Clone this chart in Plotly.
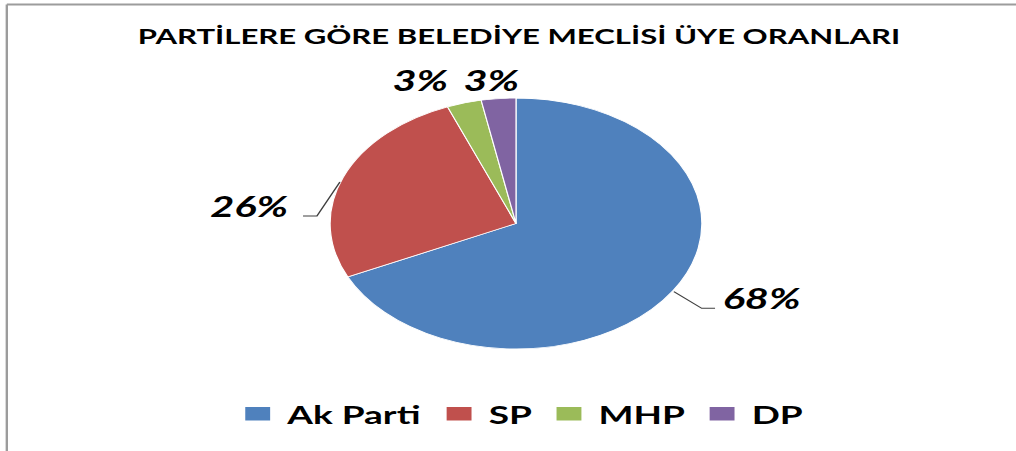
import plotly.graph_objects as go

# ---- data ----
parties = ["Ak Parti", "SP", "MHP", "DP"]
shares = [68, 26, 3, 3]
colors = ["#4F81BD", "#C0504D", "#9BBB59", "#8064A2"]
title_text = "PARTİLERE GÖRE BELEDİYE MECLİSİ ÜYE ORANLARI"

# ---- layout geometry (unstretched pixel space; the page stretches it horizontally) ----
W, H = 686, 451
STRETCH = 1016 / W
FONT = "Lato"


def px(x):
    return x / W


def py(y):
    return 1 - y / H


pie_cx = 348.4
pie_top, pie_bottom = 98, 349

label_pos = [(514.2, 297.5), (168.8, 206.3), (283.6, 79.7), (331.5, 79.7)]
leader_paths = [
    [(455.0, 291.7), (473.8, 308.3), (482.8, 308.3)],
    [(229.5, 182.0), (214.0, 216.0), (204.6, 216.0)],
]

fig = go.Figure(
    go.Pie(
        labels=parties,
        values=shares,
        sort=False,
        direction="clockwise",
        rotation=0,
        marker=dict(colors=colors, line=dict(color="white", width=0.8)),
        textinfo="none",
        hoverinfo="skip",
        domain=dict(x=[px(pie_cx - 150), px(pie_cx + 150)], y=[py(pie_bottom), py(pie_top)]),
    )
)

total = sum(shares)
annotations = []
for v, (lx, ly) in zip(shares, label_pos):
    annotations.append(
        dict(
            text=f"{round(v * 100 / total)}%",
            x=px(lx),
            y=py(ly),
            xref="paper",
            yref="paper",
            xanchor="center",
            yanchor="middle",
            showarrow=False,
            font=dict(family=FONT, size=28, weight="bold", style="italic", color="#000000"),
        )
    )

shapes = []
for pts in leader_paths:
    d = "M " + " L ".join(f"{px(x)},{py(y)}" for x, y in pts)
    shapes.append(dict(type="path", path=d, xref="paper", yref="paper",
                       line=dict(color="#404040", width=1)))

# chart border (top and left edges visible)
shapes.append(dict(type="line", xref="paper", yref="paper", x0=px(4.6), x1=1, y0=py(4.5), y1=py(4.5),
                   line=dict(color="#9C9C9C", width=2)))
shapes.append(dict(type="line", xref="paper", yref="paper", x0=px(4.6), x1=px(4.6), y0=py(4.5), y1=0,
                   line=dict(color="#9C9C9C", width=1.6)))

fig.update_layout(
    width=W,
    height=H,
    margin=dict(l=0, r=0, t=0, b=0),
    paper_bgcolor="white",
    plot_bgcolor="white",
    title=dict(
        text=title_text,
        x=px(350.4),
        xanchor="center",
        xref="paper",
        y=py(37),
        yref="container",
        yanchor="middle",
        font=dict(family=FONT, size=21, weight="bold", color="#000000"),
    ),
    showlegend=True,
    legend=dict(
        orientation="h",
        x=px(351),
        xanchor="center",
        y=py(414),
        yanchor="middle",
        font=dict(family=FONT, size=25, weight="bold", color="#000000"),
        traceorder="normal",
    ),
    annotations=annotations,
    shapes=shapes,
)

post = """
document.documentElement.style.margin='0';
document.body.style.margin='0';
document.body.style.overflow='hidden';
var gd = document.getElementById('{plot_id}');
var s = %f;
gd.querySelectorAll('.main-svg').forEach(function(el){
  el.style.transformOrigin = '0 0';
  el.style.transform = 'scaleX(' + s + ')';
});
gd.querySelectorAll('path.legendpie').forEach(function(p){
  var t = p.getAttribute('transform') || '';
  p.setAttribute('transform', t + ' scale(1.5,1.2)');
});
""" % STRETCH

fig.write_html("out.html", post_script=post, config=dict(displayModeBar=False, staticPlot=True))
